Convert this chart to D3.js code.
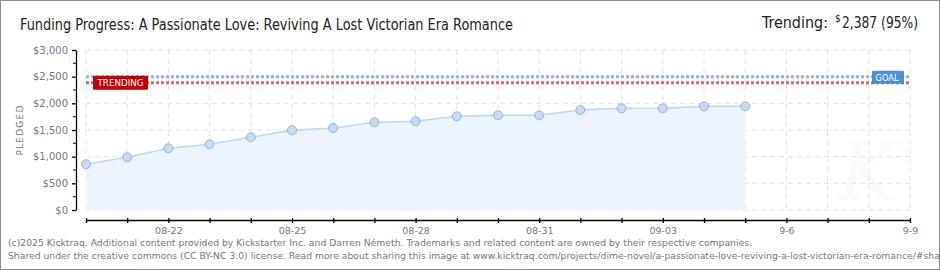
<!DOCTYPE html>
<html>
<head>
<meta charset="utf-8">
<script src="https://cdn.jsdelivr.net/npm/d3@7/dist/d3.min.js"></script>
<style>
  body { margin:0; background:#fff; }
  svg { display:block; }
</style>
</head>
<body>
<svg id="chart" width="940" height="270"></svg>
<script>
// data
const dates = ["2025-08-20","2025-08-21","2025-08-22","2025-08-23","2025-08-24","2025-08-25",
  "2025-08-26","2025-08-27","2025-08-28","2025-08-29","2025-08-30","2025-08-31",
  "2025-09-01","2025-09-02","2025-09-03","2025-09-04","2025-09-05"]
const pledged = [857,988,1157,1232,1363,1494,1537,1644,1663,1757,1775,1775,1875,1906,1906,1944,1944]
const goal = 2500
const trending = 2387
const yTicks = [0,500,1000,1500,2000,2500,3000]
const xLabelDates = ["2025-08-22","2025-08-25","2025-08-28","2025-08-31","2025-09-03","2025-09-06","2025-09-09"]
const xLabels = ["08-22","08-25","08-28","08-31","09-03","9-6","9-9"]

const parse = d3.timeParse("%Y-%m-%d")
const fmtKey = d3.timeFormat("%Y-%m-%d")
const data = dates.map((d,i) => ({date: parse(d), v: pledged[i]}))
const labelMap = {}
xLabelDates.forEach((d,i) => labelMap[d] = xLabels[i])

const svg = d3.select("#chart")

// frame
svg.append("rect").attr("x",0.5).attr("y",0.5).attr("width",939).attr("height",269)
  .attr("fill","#fff").attr("stroke","#8c8c8c").attr("stroke-width",1)

const x = d3.scaleTime().domain([parse("2025-08-20"), parse("2025-09-09")]).range([86,910])
const y = d3.scaleLinear().domain([0,3000]).range([210,50])
const allDays = d3.timeDay.range(parse("2025-08-20"), d3.timeDay.offset(parse("2025-09-09"),1))

// watermark
svg.append("text").attr("x",868).attr("y",200).attr("text-anchor","middle")
  .attr("font-family","DejaVu Serif").attr("font-style","italic").attr("font-size",80)
  .attr("fill","#fafafa").text("K")

// grid
const grid = svg.append("g")
grid.selectAll("line.v").data(allDays).enter().append("line")
  .attr("x1",d=>x(d)).attr("x2",d=>x(d)).attr("y1",50).attr("y2",210)
  .attr("stroke","#e2e2e2").attr("stroke-width",1).attr("stroke-dasharray","5,4")
grid.selectAll("line.h").data(yTicks).enter().append("line")
  .attr("x1",86).attr("x2",910).attr("y1",d=>y(d)).attr("y2",d=>y(d))
  .attr("stroke","#e2e2e2").attr("stroke-width",1).attr("stroke-dasharray","5,4")

// area + line
svg.append("path").datum(data)
  .attr("d", d3.area().x(d=>x(d.date)).y0(y(0)).y1(d=>y(d.v)))
  .attr("fill","#edf4fd")
svg.append("path").datum(data)
  .attr("d", d3.line().x(d=>x(d.date)).y(d=>y(d.v)))
  .attr("fill","none").attr("stroke","#bcd7f3").attr("stroke-width",1.5)

// goal & trending lines
svg.append("line").attr("x1",86).attr("x2",910).attr("y1",y(goal)).attr("y2",y(goal))
  .attr("stroke","#8db6df").attr("stroke-width",3).attr("stroke-dasharray","3,2")
svg.append("line").attr("x1",86).attr("x2",910).attr("y1",y(trending)).attr("y2",y(trending))
  .attr("stroke","#d46a6a").attr("stroke-width",3).attr("stroke-dasharray","3,2")

// points
svg.selectAll("circle.pt").data(data).enter().append("circle")
  .attr("cx",d=>x(d.date)).attr("cy",d=>y(d.v)).attr("r",4.5)
  .attr("fill","#c4dcf6").attr("stroke","#98b4d4").attr("stroke-width",1)

// labels on lines
svg.append("rect").attr("x",93).attr("y",y(trending)-7).attr("width",55).attr("height",14)
  .attr("rx",1).attr("fill","#c00000")
svg.append("text").attr("x",120.5).attr("y",y(trending)+3.5).attr("text-anchor","middle")
  .attr("font-family","DejaVu Sans").attr("font-size",9)
  .attr("textLength",46).attr("lengthAdjust","spacingAndGlyphs")
  .attr("fill","#fff").text("TRENDING")
svg.append("rect").attr("x",872).attr("y",y(goal)-6).attr("width",32).attr("height",13)
  .attr("rx",1).attr("fill","#3a86d6").attr("opacity",0.9)
svg.append("text").attr("x",887).attr("y",y(goal)+4).attr("text-anchor","middle")
  .attr("font-family","DejaVu Sans").attr("font-size",9)
  .attr("textLength",23).attr("lengthAdjust","spacingAndGlyphs")
  .attr("fill","#fff").text("GOAL")

// y axis
const yAxis = svg.append("g").attr("transform","translate(76,0)")
  .call(d3.axisLeft(y).tickValues(yTicks).tickSize(4).tickSizeOuter(0).tickPadding(4)
    .tickFormat(d => "$" + d3.format(",")(d)))
yAxis.select(".domain").attr("stroke","#000").attr("stroke-width",1.3)
yAxis.selectAll(".tick line").attr("stroke","#000").attr("stroke-width",1.3)
yAxis.selectAll(".tick text").attr("font-family","DejaVu Sans").attr("font-size",10).attr("fill","#777")
yAxis.selectAll("line.minor").data(d3.range(250,3000,500)).enter().append("line")
  .attr("x1",-3).attr("x2",0).attr("y1",d=>y(d)).attr("y2",d=>y(d))
  .attr("stroke","#e00000").attr("stroke-width",1.3)

svg.append("text").attr("transform","translate(23,130) rotate(-90)").attr("text-anchor","middle")
  .attr("font-family","DejaVu Sans").attr("font-size",9).attr("letter-spacing",1.2)
  .attr("fill","#777").text("PLEDGED")

// x axis
const xAxis = svg.append("g").attr("transform","translate(0,220)")
  .call(d3.axisBottom(x).tickValues(allDays).tickSize(3).tickSizeOuter(0).tickPadding(4)
    .tickFormat(d => labelMap[fmtKey(d)] || ""))
xAxis.select(".domain").attr("stroke","#000").attr("stroke-width",1.3)
xAxis.selectAll(".tick line").attr("y1",-2).attr("stroke","#000").attr("stroke-width",1.3)
xAxis.selectAll(".tick text").attr("font-family","DejaVu Sans").attr("font-size",9.5).attr("fill","#777")

// title
svg.append("text").attr("x",20).attr("y",30)
  .attr("font-family","DejaVu Sans Condensed, DejaVu Sans").attr("font-size",16)
  .attr("textLength",493).attr("lengthAdjust","spacingAndGlyphs")
  .attr("fill","#222").text("Funding Progress: A Passionate Love: Reviving A Lost Victorian Era Romance")

svg.append("text").attr("x",762).attr("y",28)
  .attr("font-family","DejaVu Sans Condensed, DejaVu Sans").attr("font-size",16)
  .attr("textLength",66).attr("lengthAdjust","spacingAndGlyphs").attr("fill","#222").text("Trending:")
svg.append("text").attr("x",835).attr("y",22)
  .attr("font-family","DejaVu Sans Condensed, DejaVu Sans").attr("font-size",10)
  .attr("fill","#222").text("$")
svg.append("text").attr("x",842).attr("y",28)
  .attr("font-family","DejaVu Sans Condensed, DejaVu Sans").attr("font-size",16)
  .attr("textLength",76).attr("lengthAdjust","spacingAndGlyphs").attr("fill","#222").text("2,387 (95%)")

// footer
const f1 = svg.append("text").attr("x",8).attr("y",246)
  .attr("font-family","DejaVu Sans Condensed, DejaVu Sans").attr("font-size",9.5).attr("fill","#777")
  .text("(c)2025 Kicktraq. Additional content provided by Kickstarter Inc. and Darren Németh. Trademarks and related content are owned by their respective companies.")
const f2 = svg.append("text").attr("x",8).attr("y",259)
  .attr("font-family","DejaVu Sans Condensed, DejaVu Sans").attr("font-size",9.5).attr("fill","#777")
  .text("Shared under the creative commons (CC BY-NC 3.0) license. Read more about sharing this image at www.kicktraq.com/projects/dime-novel/a-passionate-love-reviving-a-lost-victorian-era-romance/#sharing")
const k = 744 / f1.node().getComputedTextLength()
f1.attr("textLength",744).attr("lengthAdjust","spacingAndGlyphs")
f2.attr("textLength",f2.node().getComputedTextLength()*k).attr("lengthAdjust","spacingAndGlyphs")
</script>
</body>
</html>
